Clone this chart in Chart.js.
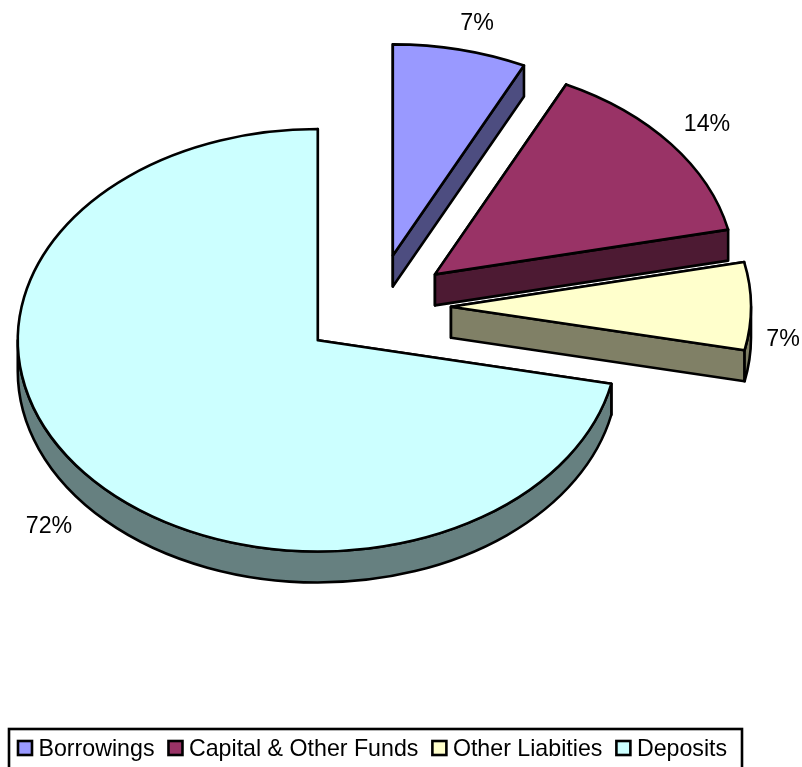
<!DOCTYPE html>
<html>
<head>
<meta charset="utf-8">
<title>Funding mix</title>
<script src="https://cdn.jsdelivr.net/npm/chart.js@4"></script>
<style>
    html, body { margin: 0; padding: 0; background: #fff; overflow: hidden; }
    canvas { display: block; }
</style>
</head>
<body>
<canvas id="fundingChart" width="802" height="767"></canvas>
<script>
// Chart data
const categories = ['Borrowings', 'Capital & Other Funds', 'Other Liabities', 'Deposits'];
const shares = [7.2, 14.4, 6.7, 71.7];
const shareLabels = ['7%', '14%', '7%', '72%'];

// Colours
const topColours = ['#9999FF', '#993366', '#FFFFCC', '#CCFFFF'];
const sideColours = ['#4D4D80', '#4D1A33', '#808066', '#668080'];

// Look of the tilted pie
const squash = 0.704;
const depth = 31;
const explode = 75;
const radius = 300;
const lineWidth = 2.6;
const font = '23.2px "Liberation Sans", Arial, sans-serif';
const labelSpots = [[477, 30], [707, 131], [783, 346], [49, 533]];

// Outline of one slice in screen space, so the line keeps an even width
function slicePath(ctx, cx, cy, r, a1, a2) {
    ctx.beginPath();
    ctx.moveTo(cx, cy);
    ctx.ellipse(cx, cy, r, r * squash, 0, a1, a2);
    ctx.closePath();
}

function paintShape(ctx, fill) {
    ctx.fillStyle = fill;
    ctx.fill();
    ctx.stroke();
}

// Extruded walls below one slice
function drawWalls(ctx, cx, cy, r, a1, a2, fill) {
    const px = a => cx + Math.cos(a) * r;
    const py = a => cy + Math.sin(a) * r * squash;

    // cut faces
    [a1, a2].forEach(a => {
        ctx.beginPath();
        ctx.moveTo(cx, cy);
        ctx.lineTo(px(a), py(a));
        ctx.lineTo(px(a), py(a) + depth);
        ctx.lineTo(cx, cy + depth);
        ctx.closePath();
        paintShape(ctx, fill);
    });

    // rim, only the part that faces the viewer
    const from = Math.max(a1, 0);
    const to = Math.min(a2, Math.PI);
    if (to > from) {
        ctx.beginPath();
        ctx.ellipse(cx, cy, r, r * squash, 0, from, to);
        ctx.ellipse(cx, cy + depth, r, r * squash, 0, to, from, true);
        ctx.closePath();
        paintShape(ctx, fill);
    }
}

const tiltedPie = {
    id: 'tiltedPie',
    beforeDatasetDraw(chart, args) {
        const ctx = chart.ctx;
        args.meta.data.forEach((arc, i) => {
            const mid = (arc.startAngle + arc.endAngle) / 2;
            const cx = arc.x + Math.cos(mid) * explode;
            const cy = arc.y + Math.sin(mid) * explode * squash;

            ctx.save();
            ctx.lineWidth = lineWidth;
            ctx.lineJoin = 'round';
            ctx.strokeStyle = '#000';
            drawWalls(ctx, cx, cy, arc.outerRadius, arc.startAngle, arc.endAngle, sideColours[i]);

            // top face, drawn by the arc element itself
            ctx.save();
            ctx.translate(cx, cy);
            ctx.scale(1, squash);
            ctx.translate(-arc.x, -arc.y);
            arc.draw(ctx);
            ctx.restore();

            slicePath(ctx, cx, cy, arc.outerRadius, arc.startAngle, arc.endAngle);
            ctx.stroke();
            ctx.restore();
        });
        return false;
    },
    afterDraw(chart) {
        const ctx = chart.ctx;
        ctx.save();
        ctx.font = font;
        ctx.fillStyle = '#000';

        // Percentage labels
        ctx.textAlign = 'center';
        ctx.textBaseline = 'alphabetic';
        shareLabels.forEach((text, i) => {
            ctx.fillText(text, labelSpots[i][0], labelSpots[i][1]);
        });

        // Legend frame runs off the bottom of the page
        ctx.lineWidth = lineWidth;
        ctx.strokeStyle = '#000';
        ctx.strokeRect(9, 729, 733, 60);

        // Legend items
        ctx.textAlign = 'left';
        let x = 17;
        categories.forEach((name, i) => {
            ctx.fillStyle = topColours[i];
            ctx.fillRect(x + 1, 741, 14, 14);
            ctx.strokeRect(x + 1, 741, 14, 14);
            ctx.fillStyle = '#000';
            ctx.fillText(name, x + 21.5, 756);
            x += 21.5 + ctx.measureText(name).width + 13;
        });
        ctx.restore();
    }
};

// Initialize chart
const chartCtx = document.getElementById('fundingChart').getContext('2d');
const fundingChart = new Chart(chartCtx, {
    type: 'pie',
    data: {
        labels: categories,
        datasets: [{
            data: shares,
            backgroundColor: topColours,
            borderWidth: 0
        }]
    },
    options: {
        responsive: false,
        animation: false,
        radius: radius,
        layout: {
            padding: { right: 50, bottom: 153 }
        },
        plugins: {
            legend: { display: false },
            tooltip: { enabled: false }
        }
    },
    plugins: [tiltedPie]
});
</script>
</body>
</html>
